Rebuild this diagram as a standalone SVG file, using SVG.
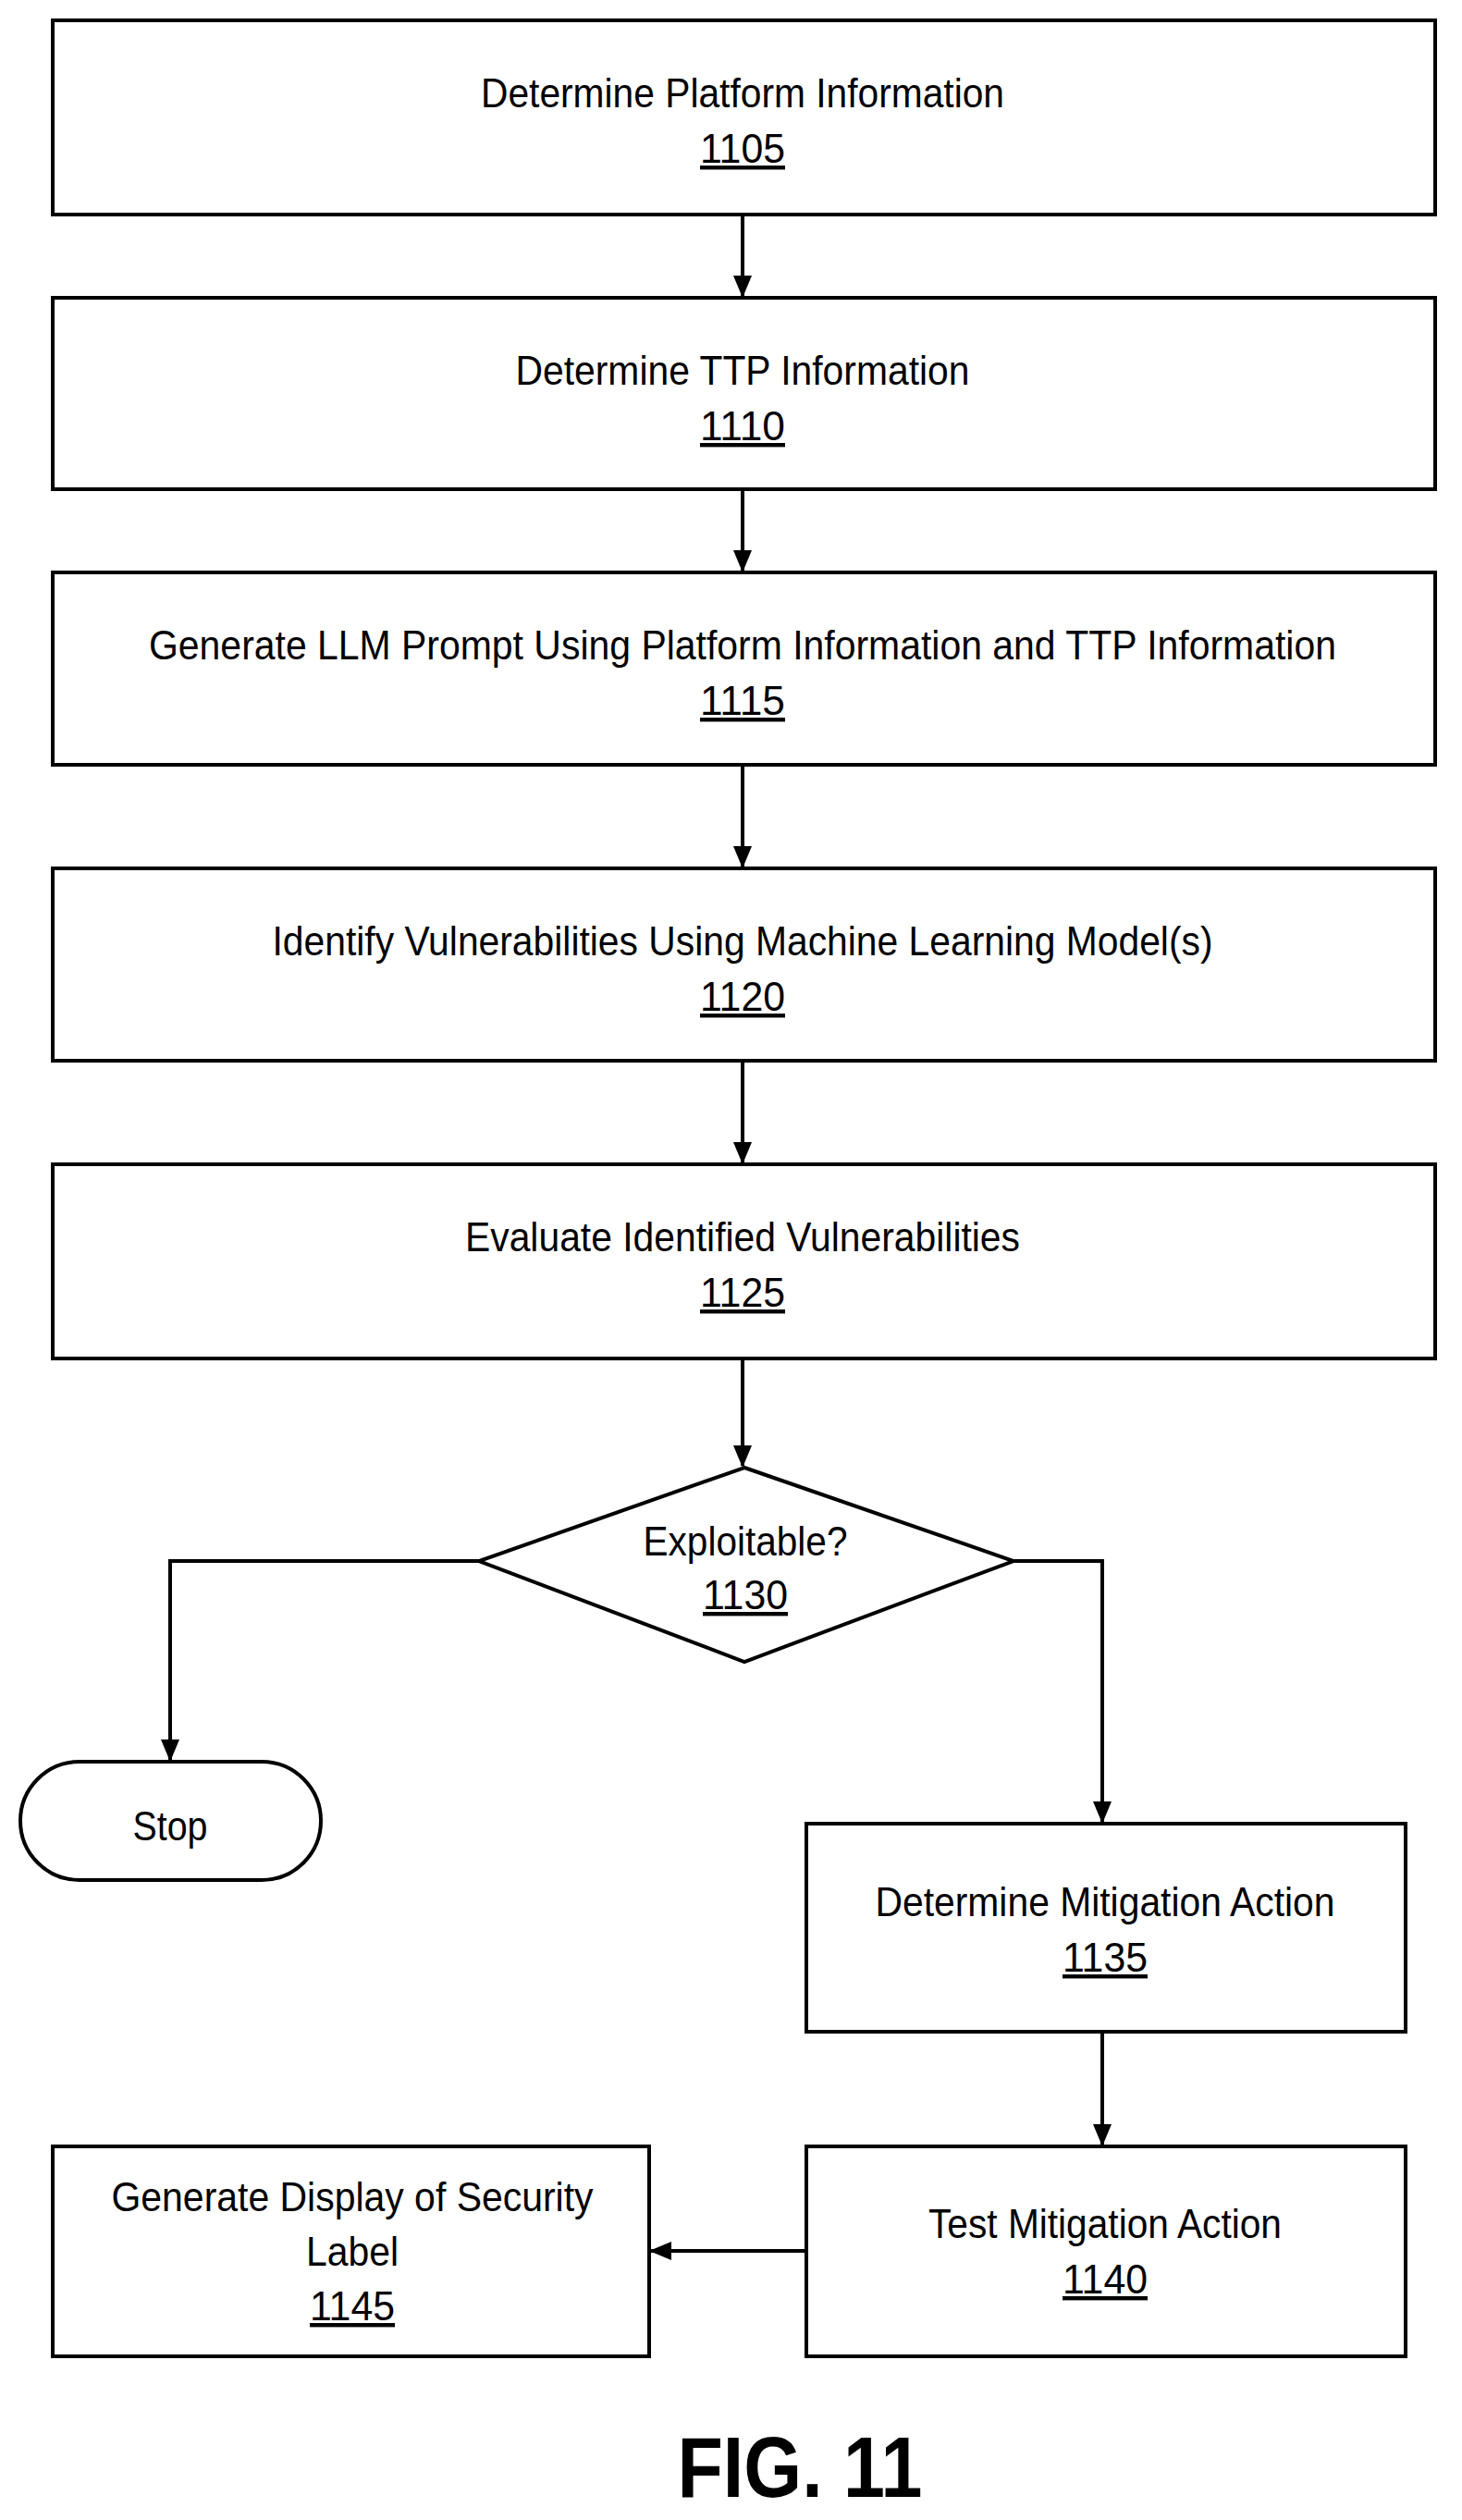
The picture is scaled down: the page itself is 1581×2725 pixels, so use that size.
<svg xmlns="http://www.w3.org/2000/svg" width="1581" height="2725" viewBox="0 0 1581 2725">
<style>
.b{fill:#fff;stroke:#000;stroke-width:4}
.t{font-family:"Liberation Sans",Arial,sans-serif;font-size:44px;text-anchor:middle;fill:#000}
.n{text-decoration:underline}
.c{fill:none;stroke:#000;stroke-width:4}
</style>
<defs><marker id="a" markerUnits="userSpaceOnUse" markerWidth="24" markerHeight="28" refX="22" refY="10" orient="auto"><path d="M0,0 L24,10 L0,20 Z" fill="#000"/></marker></defs>
<rect width="1581" height="2725" fill="#fff"/>
<g id="connectors">
<path class="c" d="M803,232 V320" marker-end="url(#a)"/>
<path class="c" d="M803,529 V617" marker-end="url(#a)"/>
<path class="c" d="M803,827 V937" marker-end="url(#a)"/>
<path class="c" d="M803,1147 V1257" marker-end="url(#a)"/>
<path class="c" d="M803,1469 V1585" marker-end="url(#a)"/>
<path class="c" d="M518,1688 H184 V1903" marker-end="url(#a)"/>
<path class="c" d="M1096,1688 H1192 V1970" marker-end="url(#a)"/>
<path class="c" d="M1192,2197 V2319" marker-end="url(#a)"/>
<path class="c" d="M872,2434 H704" marker-end="url(#a)"/>
</g>
<g id="n1105"><rect class="b" x="57" y="22" width="1495" height="210"/><text class="t" x="803" y="116" textLength="566" lengthAdjust="spacingAndGlyphs">Determine Platform Information</text><text class="t n" x="803" y="176" textLength="92" lengthAdjust="spacingAndGlyphs">1105</text></g>
<g id="n1110"><rect class="b" x="57" y="322" width="1495" height="207"/><text class="t" x="803" y="416" textLength="491" lengthAdjust="spacingAndGlyphs">Determine TTP Information</text><text class="t n" x="803" y="476" textLength="92" lengthAdjust="spacingAndGlyphs">1110</text></g>
<g id="n1115"><rect class="b" x="57" y="619" width="1495" height="208"/><text class="t" x="803" y="713" textLength="1284" lengthAdjust="spacingAndGlyphs">Generate LLM Prompt Using Platform Information and TTP Information</text><text class="t n" x="803" y="773" textLength="92" lengthAdjust="spacingAndGlyphs">1115</text></g>
<g id="n1120"><rect class="b" x="57" y="939" width="1495" height="208"/><text class="t" x="803" y="1033" textLength="1017" lengthAdjust="spacingAndGlyphs">Identify Vulnerabilities Using Machine Learning Model(s)</text><text class="t n" x="803" y="1093" textLength="92" lengthAdjust="spacingAndGlyphs">1120</text></g>
<g id="n1125"><rect class="b" x="57" y="1259" width="1495" height="210"/><text class="t" x="803" y="1353" textLength="600" lengthAdjust="spacingAndGlyphs">Evaluate Identified Vulnerabilities</text><text class="t n" x="803" y="1413" textLength="92" lengthAdjust="spacingAndGlyphs">1125</text></g>
<g id="n1130"><path class="b" d="M805,1587 L1096,1688 L805,1797 L518,1688 Z"/><text class="t" x="806" y="1682" textLength="221" lengthAdjust="spacingAndGlyphs">Exploitable?</text><text class="t n" x="806" y="1740" textLength="92" lengthAdjust="spacingAndGlyphs">1130</text></g>
<g id="stop"><rect class="b" x="22" y="1905" width="325" height="128" rx="64" ry="64"/><text class="t" x="184" y="1990" textLength="81" lengthAdjust="spacingAndGlyphs">Stop</text></g>
<g id="n1135"><rect class="b" x="872" y="1972" width="648" height="225"/><text class="t" x="1195" y="2072" textLength="497" lengthAdjust="spacingAndGlyphs">Determine Mitigation Action</text><text class="t n" x="1195" y="2132" textLength="92" lengthAdjust="spacingAndGlyphs">1135</text></g>
<g id="n1140"><rect class="b" x="872" y="2321" width="648" height="227"/><text class="t" x="1195" y="2420" textLength="382" lengthAdjust="spacingAndGlyphs">Test Mitigation Action</text><text class="t n" x="1195" y="2480" textLength="92" lengthAdjust="spacingAndGlyphs">1140</text></g>
<g id="n1145"><rect class="b" x="57" y="2321" width="645" height="227"/><text class="t" x="381" y="2391" textLength="521" lengthAdjust="spacingAndGlyphs">Generate Display of Security</text><text class="t" x="381" y="2450" textLength="100" lengthAdjust="spacingAndGlyphs">Label</text><text class="t n" x="381" y="2509" textLength="92" lengthAdjust="spacingAndGlyphs">1145</text></g>
<text x="865" y="2700" font-family="Liberation Sans,Arial,sans-serif" font-weight="bold" font-size="92" text-anchor="middle" textLength="265" lengthAdjust="spacingAndGlyphs">FIG. 11</text>
</svg>
